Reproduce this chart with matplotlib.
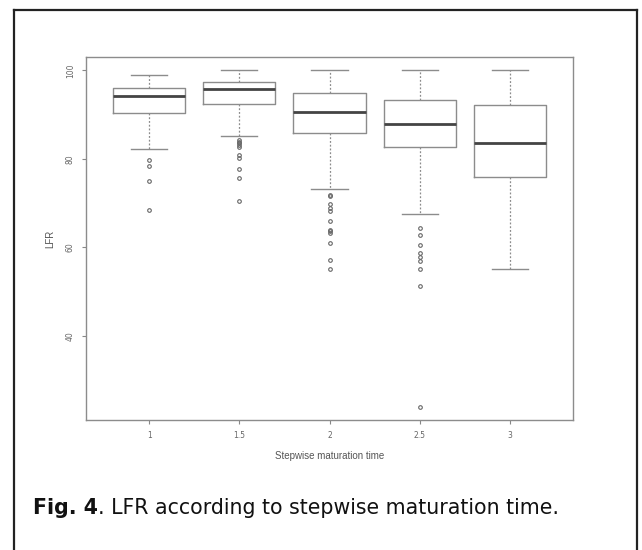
import matplotlib
matplotlib.use("Agg")
import matplotlib.pyplot as plt
from matplotlib.lines import Line2D

# Values
labels = ["1", "1.5", "2", "2.5", "3"]
whishi = [98.9, 100.0, 100.0, 100.0, 100.0]
q3 = [96.1, 97.4, 94.8, 93.4, 92.1]
med = [94.2, 95.7, 90.5, 88.0, 83.5]
q1 = [90.4, 92.4, 85.8, 82.6, 75.9]
whislo = [82.2, 85.2, 73.2, 67.6, 55.2]
fliers_1 = [79.8, 78.3, 75.0, 68.5]
fliers_15 = [84.3, 83.9, 83.5, 83.1, 82.8, 80.8, 80.1, 77.7, 75.6, 70.4]
fliers_2 = [71.8, 71.5, 69.7, 69.0, 68.2, 65.9, 64.0, 63.6, 63.3, 61.0, 57.1, 55.1]
fliers_25 = [64.4, 62.7, 60.5, 58.7, 57.8, 56.9, 55.2, 51.2, 24.0]
fliers_3 = []
fliers = [fliers_1, fliers_15, fliers_2, fliers_25, fliers_3]

# Stats dicts for bxp
stats = []
for i in range(len(labels)):
    stats.append({
        "label": labels[i],
        "whishi": whishi[i],
        "q3": q3[i],
        "med": med[i],
        "q1": q1[i],
        "whislo": whislo[i],
        "fliers": fliers[i],
    })

W, H = 642, 550
fig = plt.figure(figsize=(W / 100, H / 100), dpi=100)
ax = fig.add_axes([86 / W, 1 - 420 / H, 487 / W, 363 / H])

line_c = "#8c8c8c"
ax.bxp(
    stats,
    positions=range(1, 6),
    widths=0.8,
    boxprops=dict(color=line_c, linewidth=1.0),
    medianprops=dict(color="#444444", linewidth=2.0),
    whiskerprops=dict(color=line_c, linewidth=0.9, linestyle=(0, (1.5, 1.5))),
    capprops=dict(color=line_c, linewidth=1.0),
    flierprops=dict(marker="o", markersize=2.6, markerfacecolor="none",
                    markeredgecolor="#666666", markeredgewidth=0.8),
)

# R-style 4% padding around the data range
all_vals = whishi + whislo + [v for f in fliers for v in f]
lo, hi = min(all_vals), max(all_vals)
pad = (hi - lo) * 0.04
ax.set_ylim(lo - pad, hi + pad)
ax.set_xlim(0.5 - 0.2, 5.5 + 0.2)

ax.set_yticks([40, 60, 80, 100])
ax.set_yticklabels(["40", "60", "80", "100"], rotation=90, va="center")
ax.set_xticks(range(1, 6))
ax.set_xticklabels(labels)
ax.tick_params(labelsize=5.5, colors="#888888", labelcolor="#666666",
               length=3, width=0.8, pad=5)

for s in ax.spines.values():
    s.set_color(line_c)
    s.set_linewidth(1.0)

ax.set_xlabel("Stepwise maturation time", fontsize=7, color="#555555",
              family="Liberation Sans", labelpad=8)
ax.set_ylabel("LFR", fontsize=7, color="#555555", family="Liberation Sans",
              labelpad=8)

# Outer frame (open at the bottom)
frame_kw = dict(color="#222222", linewidth=1.6, transform=fig.transFigure)
l, r, t = 13.5 / W, 636.5 / W, 1 - 9.5 / H
fig.add_artist(Line2D([l, l], [0, t], **frame_kw))
fig.add_artist(Line2D([l, r], [t, t], **frame_kw))
fig.add_artist(Line2D([r, r], [t, 0], **frame_kw))

# Caption: bold figure number, then the rest right after it
cap = fig.text(33 / W, 1 - 508 / H, "Fig. 4", fontsize=14.8, fontweight="bold",
               family="DejaVu Sans", va="center", color="#111111")
ax.annotate(". LFR according to stepwise maturation time.", xy=(1, 0.5),
            xycoords=cap, va="center", ha="left", fontsize=14.8,
            family="DejaVu Sans", color="#111111", annotation_clip=False)

fig.savefig("out.png", dpi=100)
